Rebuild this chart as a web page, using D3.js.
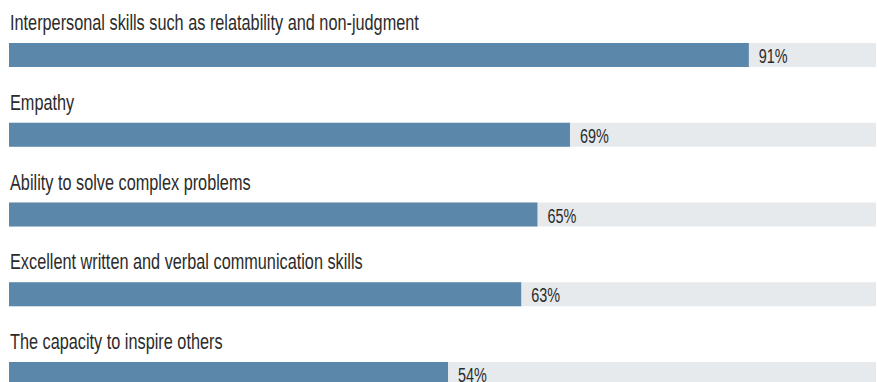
<!DOCTYPE html>
<html>
<head>
<meta charset="utf-8">
<script src="https://cdn.jsdelivr.net/npm/d3@7"></script>
<style>
  html, body { margin: 0; padding: 0; background: #fff; }
  svg { display: block; }
  text { font-family: "Liberation Sans", Arial, sans-serif; fill: #2b2b2b; }
</style>
</head>
<body>
<svg id="chart" width="877" height="382"></svg>
<script>
// Share of respondents naming each skill
const skills = [
  "Interpersonal skills such as relatability and non-judgment",
  "Empathy",
  "Ability to solve complex problems",
  "Excellent written and verbal communication skills",
  "The capacity to inspire others"
];
const shares = [91, 69, 65, 63, 54];

const width = 877, height = 382;
const left = 9, trackRight = 876;
const rowStep = 79.75, barTop = 43, barH = 24;
const squeeze = 0.74; // condensed look for the labels

const svg = d3.select("#chart");

const x = d3.scaleLinear().domain([0, 100]).range([left, left + 813]);
const y = d3.scaleBand().domain(skills).range([0, rowStep * skills.length]).padding(0);

const rows = svg.selectAll("g.row")
  .data(skills.map((s, i) => ({ skill: s, value: shares[i] })))
  .join("g")
  .attr("class", "row")
  .attr("transform", d => `translate(0,${y(d.skill)})`);

// background track
rows.append("rect")
  .attr("x", left)
  .attr("y", barTop)
  .attr("width", trackRight - left)
  .attr("height", barH)
  .attr("fill", "#e7eaed");

// value bar
rows.append("rect")
  .attr("x", x(0))
  .attr("y", barTop)
  .attr("width", d => x(d.value) - x(0))
  .attr("height", barH)
  .attr("fill", "#5b87aa");

// category label
rows.append("text")
  .attr("transform", `translate(10,30) scale(${squeeze},1)`)
  .attr("font-size", 22)
  .text(d => d.skill);

// value label
rows.append("text")
  .attr("transform", d => `translate(${x(d.value) + 10},${barTop + 20}) scale(${squeeze},1)`)
  .attr("font-size", 19.5)
  .text(d => d.value + "%");
</script>
</body>
</html>
